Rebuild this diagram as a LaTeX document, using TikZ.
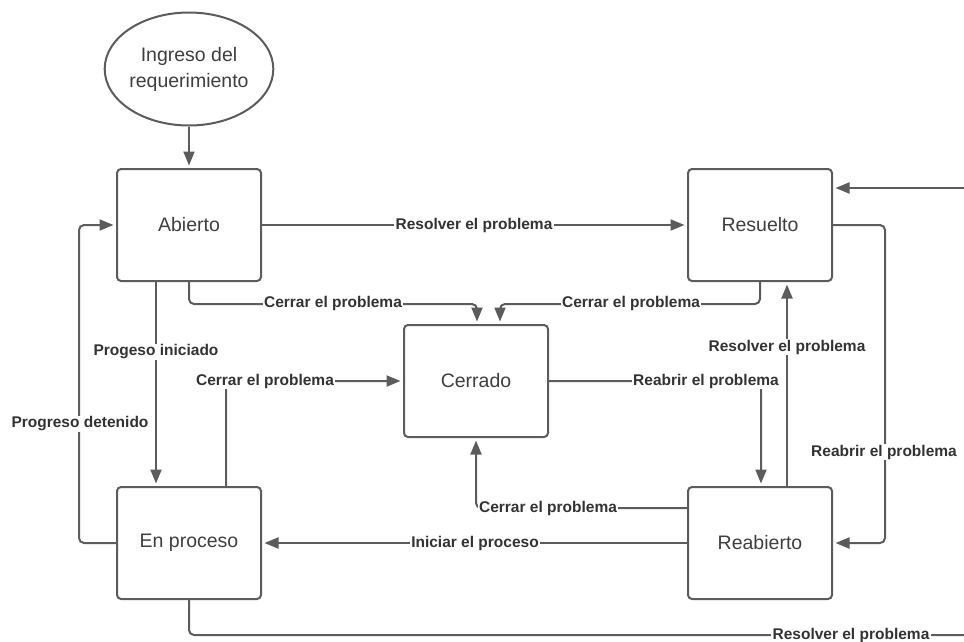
\documentclass[tikz,border=0pt]{standalone}
\usepackage{fontspec}
\setmainfont{Liberation Sans}
\usetikzlibrary{arrows.meta,shapes.geometric}
\definecolor{edge}{HTML}{5C5C5C}
\definecolor{ink}{HTML}{333333}
\definecolor{boxink}{HTML}{3F3F3F}
\tikzset{
  state/.style={draw=edge, line width=2pt, rounded corners=4pt, fill=white,
    minimum width=144pt, minimum height=112pt, text=boxink,
    font=\fontsize{19.5}{26}\selectfont},
  startstate/.style={ellipse, draw=edge, line width=2pt, fill=white,
    minimum width=132pt, minimum height=113pt, inner sep=0pt, text=boxink,
    align=center, font=\fontsize{19.5}{26}\selectfont},
  wire/.style={draw=edge, line width=2pt, rounded corners=5pt},
  conn/.style={wire, -{Triangle[length=14pt,width=11pt]}, shorten >=2.5pt},
  lbl/.style={fill=white, inner sep=1.2pt, text=ink,
    font=\fontsize{15.5}{18}\selectfont\bfseries}
}
\begin{document}
\begin{tikzpicture}[x=1pt,y=-1pt]
\useasboundingbox (0,0) rectangle (964,641);

% states
\node[startstate] (ingreso) at (189,69) {Ingreso del\\requerimiento};
\node[state] (abierto)   at (189,225) {Abierto};
\node[state] (resuelto)  at (760,225) {Resuelto};
\node[state] (cerrado)   at (476,381) {Cerrado};
\node[state] (enproceso) at (189,543) {En proceso};
\node[state] (reabierto) at (760,543) {Reabierto};

% free ends at the right border
\coordinate (inR)  at (964,188);
\coordinate (outR) at (964,635);

% transitions
\draw[conn] (ingreso.south) -- (abierto.north);
\draw[conn] (abierto.east) -- (resuelto.west);
\draw[conn] (abierto.south) -- ++(0,22) -| ([xshift=1pt]cerrado.north);
\draw[conn] (resuelto.south) -- ++(0,22) -| ([xshift=24pt]cerrado.north);
\draw[conn] ([xshift=-33pt]abierto.south) -- ([xshift=-33pt]enproceso.north);
\draw[conn] (enproceso.west) -- ++(-37,0) |- (abierto.west);
\draw[conn] ([xshift=37pt]enproceso.north) |- (cerrado.west);
\draw[conn] (cerrado.east) -| ([xshift=1pt]reabierto.north);
\draw[conn] ([xshift=27pt]reabierto.north) -- ([xshift=27pt]resuelto.south);
\draw[conn] (resuelto.east) -- ++(52,0) |- (reabierto.east);
\draw[conn] (inR) -- ([yshift=37pt]resuelto.east);
\draw[conn] ([yshift=35pt]reabierto.west) -| (cerrado.south);
\draw[conn] (reabierto.west) -- (enproceso.east);
\draw[wire] (enproceso.south) |- (outR);

% transition labels
\node[lbl] (l1)  at (474,225) {Resolver el problema};
\node[lbl] (l2)  at (333,303) {Cerrar el problema};
\node[lbl] (l3)  at (631,303) {Cerrar el problema};
\node[lbl] (l4)  at (156,352) {Progeso iniciado};
\node[lbl] (l5)  at (80,424)  {Progreso detenido};
\node[lbl] (l6)  at (265,381) {Cerrar el problema};
\node[lbl] (l7)  at (706,381) {Reabrir el problema};
\node[lbl] (l8)  at (787,347) {Resolver el problema};
\node[lbl] (l9)  at (884,452) {Reabrir el problema};
\node[lbl] (l10) at (548,508) {Cerrar el problema};
\node[lbl] (l11) at (475,543) {Iniciar el proceso};
\node[lbl] (l12) at (851,635) {Resolver el problema};
\end{tikzpicture}
\end{document}
